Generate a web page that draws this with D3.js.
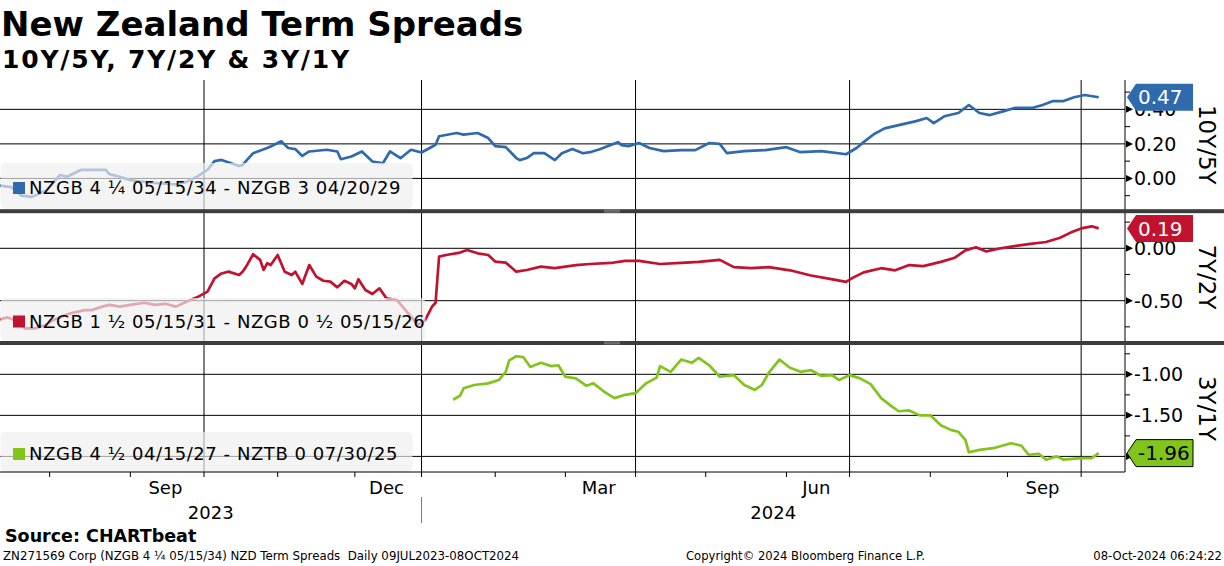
<!DOCTYPE html>
<html>
<head>
<meta charset="utf-8">
<script src="https://cdn.jsdelivr.net/npm/d3@7"></script>
<style>
  body { margin: 0; background: #fff; }
  svg { display: block; }
  text { font-family: "DejaVu Sans", sans-serif; white-space: pre; }
</style>
</head>
<body>
<svg id="chart" width="1224" height="566"></svg>
<script>
// NZ market holidays (no trading, axis skips them)
const holidays = ["2023-07-14", "2023-10-23", "2023-12-25", "2023-12-26", "2024-01-01", "2024-01-02",
  "2024-02-06", "2024-03-29", "2024-04-01", "2024-04-25", "2024-06-03", "2024-06-28"];

// 10Y/5Y spread (%)
const spread10s5s = [
  ["2023-07-10", -0.04], ["2023-07-17", -0.05], ["2023-07-20", -0.10], ["2023-07-25", -0.107], ["2023-07-31", -0.07],
  ["2023-08-04", 0.02], ["2023-08-08", 0.01], ["2023-08-14", 0.05], ["2023-08-23", 0.05], ["2023-08-24", 0.025],
  ["2023-08-29", 0.01], ["2023-09-01", -0.01], ["2023-09-11", -0.025], ["2023-09-20", -0.035], ["2023-09-25", -0.02],
  ["2023-09-28", 0.01], ["2023-10-03", 0.05], ["2023-10-05", 0.10], ["2023-10-09", 0.107], ["2023-10-16", 0.072],
  ["2023-10-17", 0.078], ["2023-10-20", 0.146], ["2023-10-27", 0.176], ["2023-10-30", 0.185], ["2023-11-02", 0.215],
  ["2023-11-06", 0.176], ["2023-11-08", 0.17], ["2023-11-10", 0.13], ["2023-11-14", 0.156], ["2023-11-21", 0.166],
  ["2023-11-24", 0.156], ["2023-11-27", 0.111], ["2023-11-30", 0.127], ["2023-12-05", 0.156], ["2023-12-08", 0.098],
  ["2023-12-13", 0.088], ["2023-12-15", 0.156], ["2023-12-20", 0.117], ["2023-12-27", 0.166], ["2024-01-03", 0.15],
  ["2024-01-09", 0.195], ["2024-01-10", 0.244], ["2024-01-17", 0.263], ["2024-01-19", 0.254], ["2024-01-25", 0.263],
  ["2024-01-30", 0.234], ["2024-02-01", 0.187], ["2024-02-07", 0.181], ["2024-02-12", 0.118], ["2024-02-13", 0.106],
  ["2024-02-15", 0.118], ["2024-02-19", 0.146], ["2024-02-22", 0.146], ["2024-02-27", 0.106], ["2024-02-29", 0.146],
  ["2024-03-05", 0.17], ["2024-03-08", 0.146], ["2024-03-12", 0.152], ["2024-03-15", 0.17], ["2024-03-19", 0.187],
  ["2024-03-22", 0.21], ["2024-03-25", 0.193], ["2024-03-27", 0.187], ["2024-04-03", 0.205], ["2024-04-08", 0.176],
  ["2024-04-12", 0.158], ["2024-04-19", 0.164], ["2024-04-26", 0.164], ["2024-05-02", 0.205], ["2024-05-07", 0.20],
  ["2024-05-09", 0.147], ["2024-05-16", 0.158], ["2024-05-24", 0.164], ["2024-06-04", 0.181], ["2024-06-10", 0.152],
  ["2024-06-18", 0.158], ["2024-06-27", 0.14], ["2024-07-03", 0.176], ["2024-07-05", 0.21], ["2024-07-10", 0.257],
  ["2024-07-15", 0.29], ["2024-07-19", 0.309], ["2024-07-26", 0.332], ["2024-07-31", 0.35], ["2024-08-02", 0.32],
  ["2024-08-07", 0.36], ["2024-08-13", 0.379], ["2024-08-16", 0.425], ["2024-08-21", 0.379], ["2024-08-26", 0.367],
  ["2024-08-30", 0.39], ["2024-09-04", 0.408], ["2024-09-11", 0.408], ["2024-09-16", 0.425], ["2024-09-19", 0.448],
  ["2024-09-24", 0.448], ["2024-09-27", 0.47], ["2024-10-02", 0.483], ["2024-10-08", 0.47]
];

// 7Y/2Y spread (%)
const spread7s2s = [
  ["2023-07-10", -0.685], ["2023-07-13", -0.66], ["2023-07-18", -0.685], ["2023-07-21", -0.764], ["2023-07-26", -0.764],
  ["2023-07-31", -0.73], ["2023-08-02", -0.685], ["2023-08-09", -0.62], ["2023-08-15", -0.59], ["2023-08-17", -0.59],
  ["2023-08-22", -0.557], ["2023-08-24", -0.54], ["2023-08-29", -0.557], ["2023-09-01", -0.54], ["2023-09-07", -0.52],
  ["2023-09-12", -0.54], ["2023-09-15", -0.53], ["2023-09-20", -0.557], ["2023-09-25", -0.51], ["2023-09-28", -0.468],
  ["2023-10-03", -0.414], ["2023-10-05", -0.287], ["2023-10-09", -0.24], ["2023-10-11", -0.223], ["2023-10-16", -0.255],
  ["2023-10-17", -0.223], ["2023-10-18", -0.175], ["2023-10-20", -0.057], ["2023-10-25", -0.11], ["2023-10-26", -0.207],
  ["2023-10-27", -0.143], ["2023-10-30", -0.16], ["2023-11-01", -0.064], ["2023-11-03", -0.223], ["2023-11-07", -0.255],
  ["2023-11-08", -0.223], ["2023-11-10", -0.34], ["2023-11-14", -0.16], ["2023-11-16", -0.27], ["2023-11-20", -0.31],
  ["2023-11-22", -0.318], ["2023-11-24", -0.373], ["2023-11-28", -0.31], ["2023-11-30", -0.34], ["2023-12-01", -0.382],
  ["2023-12-04", -0.296], ["2023-12-06", -0.398], ["2023-12-08", -0.436], ["2023-12-12", -0.382], ["2023-12-14", -0.478],
  ["2023-12-19", -0.494], ["2023-12-21", -0.573], ["2023-12-27", -0.653], ["2023-12-29", -0.732], ["2024-01-04", -0.685],
  ["2024-01-08", -0.557], ["2024-01-09", -0.52], ["2024-01-10", -0.08], ["2024-01-12", -0.064], ["2024-01-18", -0.041],
  ["2024-01-22", -0.016], ["2024-01-25", -0.048], ["2024-01-30", -0.064], ["2024-02-01", -0.127], ["2024-02-07", -0.137],
  ["2024-02-12", -0.223], ["2024-02-15", -0.207], ["2024-02-21", -0.175], ["2024-02-27", -0.19], ["2024-03-06", -0.16],
  ["2024-03-12", -0.15], ["2024-03-20", -0.14], ["2024-03-26", -0.12], ["2024-04-03", -0.12], ["2024-04-11", -0.15],
  ["2024-04-19", -0.14], ["2024-04-29", -0.13], ["2024-05-07", -0.11], ["2024-05-13", -0.18], ["2024-05-20", -0.19],
  ["2024-05-27", -0.18], ["2024-06-05", -0.21], ["2024-06-13", -0.26], ["2024-06-20", -0.29], ["2024-06-27", -0.32],
  ["2024-07-02", -0.28], ["2024-07-05", -0.23], ["2024-07-12", -0.19], ["2024-07-18", -0.21], ["2024-07-24", -0.16],
  ["2024-07-30", -0.17], ["2024-08-06", -0.13], ["2024-08-12", -0.09], ["2024-08-15", -0.02], ["2024-08-20", 0.01],
  ["2024-08-23", -0.03], ["2024-08-29", 0.0], ["2024-09-04", 0.02], ["2024-09-10", 0.04], ["2024-09-17", 0.06],
  ["2024-09-23", 0.10], ["2024-09-26", 0.15], ["2024-10-01", 0.19], ["2024-10-04", 0.21], ["2024-10-08", 0.19]
];

// 3Y/1Y spread (%)
const spread3s1s = [
  ["2024-01-16", -1.31], ["2024-01-18", -1.26], ["2024-01-19", -1.17], ["2024-01-24", -1.13], ["2024-01-30", -1.11],
  ["2024-02-02", -1.07], ["2024-02-07", -0.97], ["2024-02-08", -0.83], ["2024-02-12", -0.78], ["2024-02-14", -0.79],
  ["2024-02-16", -0.91], ["2024-02-21", -0.86], ["2024-02-26", -0.90], ["2024-02-28", -0.89], ["2024-03-01", -1.03],
  ["2024-03-06", -1.05], ["2024-03-11", -1.14], ["2024-03-13", -1.11], ["2024-03-18", -1.21], ["2024-03-21", -1.29],
  ["2024-03-26", -1.25], ["2024-04-02", -1.23], ["2024-04-05", -1.11], ["2024-04-10", -1.04], ["2024-04-11", -0.90],
  ["2024-04-16", -0.97], ["2024-04-19", -0.82], ["2024-04-24", -0.86], ["2024-04-29", -0.80], ["2024-05-02", -0.89],
  ["2024-05-07", -1.03], ["2024-05-13", -1.01], ["2024-05-16", -1.13], ["2024-05-21", -1.19], ["2024-05-23", -1.13],
  ["2024-05-27", -0.98], ["2024-05-30", -0.82], ["2024-06-05", -0.92], ["2024-06-10", -0.97], ["2024-06-13", -0.95],
  ["2024-06-18", -1.02], ["2024-06-21", -1.01], ["2024-06-25", -1.07], ["2024-07-01", -1.01], ["2024-07-04", -1.05],
  ["2024-07-09", -1.12], ["2024-07-12", -1.29], ["2024-07-17", -1.39], ["2024-07-19", -1.45], ["2024-07-24", -1.44],
  ["2024-07-29", -1.50], ["2024-08-01", -1.50], ["2024-08-06", -1.62], ["2024-08-09", -1.68], ["2024-08-13", -1.70],
  ["2024-08-15", -1.80], ["2024-08-16", -1.95], ["2024-08-21", -1.92], ["2024-08-27", -1.90], ["2024-09-03", -1.84],
  ["2024-09-06", -1.87], ["2024-09-10", -1.98], ["2024-09-13", -1.97], ["2024-09-17", -2.04], ["2024-09-20", -2.00],
  ["2024-09-24", -2.04], ["2024-10-01", -2.02], ["2024-10-04", -2.02], ["2024-10-08", -1.96]
];

const panelTitles = ["10Y/5Y", "7Y/2Y", "3Y/1Y"];
const legendLabels = [
  "NZGB 4 \u00BC 05/15/34 - NZGB 3 04/20/29",
  "NZGB 1 \u00BD 05/15/31 - NZGB 0 \u00BD 05/15/26",
  "NZGB 4 \u00BD 04/15/27 - NZTB 0 07/30/25"
];
const lastLabels = ["0.47", "0.19", "-1.96"];
const majorTicks = [[0, 0.2, 0.4], [-0.5, 0], [-2, -1.5, -1]];
const minorTicks = [[-0.1, 0.1, 0.3, 0.5], [-0.75, -0.25, 0.25], [-1.75, -1.25, -0.75]];
const labelledMonths = ["2023-09", "2023-12", "2024-03", "2024-06", "2024-09"];
const yearLabels = ["2023", "2024"];

const svg = d3.select("#chart");
const parse = d3.timeParse("%Y-%m-%d");
const fmtDay = d3.timeFormat("%Y-%m-%d");
const fmtMonth = d3.timeFormat("%Y-%m");
const holidaySet = new Set(holidays);

// trading-day axis (weekends & holidays skipped, like the terminal chart)
const tradingDays = d3.timeDay.range(new Date(2023, 6, 10), new Date(2024, 9, 9))
  .filter(d => d.getDay() !== 0 && d.getDay() !== 6 && !holidaySet.has(fmtDay(d)));
const dayIndex = d => d3.bisectLeft(tradingDays, d);

const plotRight = 1125;
const plotBottom = 472;
const x = d3.scaleLinear().domain([0.855, 321.5]).range([0, plotRight]);

const panels = [
  {data: spread10s5s, color: "#2f6aad", domain: [-0.18, 0.57], top: 80, bottom: 209.5,
   legendY: 163, legendH: 46, legendW: 412, textCol: "#fff", stroke: "none"},
  {data: spread7s2s, color: "#c1132f", domain: [-0.885, 0.337], top: 213, bottom: 341,
   legendY: 298, legendH: 43, legendW: 425, textCol: "#fff", stroke: "none"},
  {data: spread3s1s, color: "#80c41c", domain: [-2.19, -0.643], top: 345, bottom: plotBottom,
   legendY: 432, legendH: 40, legendW: 412, textCol: "#000", stroke: "#000"}
];

svg.append("defs").append("clipPath").attr("id", "plotClip")
  .append("rect").attr("x", 0).attr("y", 0).attr("width", plotRight).attr("height", 566);

// month boundaries on the trading-day axis
const months = d3.groups(tradingDays.map((d, i) => ({d, i})), e => fmtMonth(e.d))
  .map(([key, arr]) => ({key, first: arr[0].i, last: arr[arr.length - 1].i}));
const quarterStarts = months.filter(m => [1, 4, 7, 10].includes(+m.key.slice(5)) && m.first > 0);

const gridG = svg.append("g");

// vertical quarter gridlines through all panels
gridG.selectAll("line.vgrid")
  .data(quarterStarts)
  .enter()
  .append("line")
  .attr("x1", d => x(d.first)).attr("x2", d => x(d.first))
  .attr("y1", panels[0].top).attr("y2", plotBottom)
  .attr("stroke", "#000").attr("stroke-width", 1);

panels.forEach((p, k) => {
  const y = d3.scaleLinear().domain(p.domain).range([p.bottom, p.top]);
  const g = svg.append("g");

  g.selectAll("line.hgrid")
    .data(majorTicks[k])
    .enter()
    .append("line")
    .attr("x1", 0).attr("x2", plotRight)
    .attr("y1", d => y(d)).attr("y2", d => y(d))
    .attr("stroke", "#000").attr("stroke-width", 1);

  const line = d3.line()
    .x(d => x(dayIndex(parse(d[0]))))
    .y(d => y(d[1]));

  g.append("path")
    .datum(p.data)
    .attr("d", line)
    .attr("clip-path", "url(#plotClip)")
    .attr("fill", "none")
    .attr("stroke", p.color)
    .attr("stroke-width", 2.7)
    .attr("stroke-linejoin", "round");

  // legend box (translucent, washes out the line beneath)
  g.append("rect")
    .attr("x", 0.5).attr("y", p.legendY)
    .attr("width", p.legendW).attr("height", p.legendH)
    .attr("rx", 5)
    .attr("fill", "#efefef").attr("fill-opacity", 0.68);
  const ly = p.legendY + p.legendH / 2 + 2;
  g.append("rect")
    .attr("x", 13).attr("y", ly - 6)
    .attr("width", 12).attr("height", 12)
    .attr("fill", p.color);
  g.append("text")
    .attr("x", 29).attr("y", ly)
    .attr("dy", "0.36em")
    .style("font-size", "18px")
    .style("letter-spacing", "0.55px")
    .attr("fill", "#000")
    .text(legendLabels[k]);

  // last value tag position (clamped inside the panel)
  const last = p.data[p.data.length - 1][1];
  const cy = Math.max(p.top + 13.5, Math.min(p.bottom - 13.5, y(last)));

  // right axis: minor ticks, pointer ticks, labels
  g.selectAll("line.minor")
    .data(minorTicks[k])
    .enter()
    .append("line")
    .attr("x1", plotRight).attr("x2", plotRight + 5)
    .attr("y1", d => y(d)).attr("y2", d => y(d))
    .attr("stroke", "#000");
  g.selectAll("path.major")
    .data(majorTicks[k])
    .enter()
    .append("path")
    .attr("d", d => `M${plotRight + 1},${y(d) - 3.5}L${plotRight + 8},${y(d)}L${plotRight + 1},${y(d) + 3.5}Z`)
    .attr("fill", "#000");
  // a label hidden completely behind the value tag is left out
  g.selectAll("text.tick")
    .data(majorTicks[k].filter(d => Math.abs(y(d) - cy) > 8))
    .enter()
    .append("text")
    .attr("x", plotRight + 9).attr("y", d => y(d))
    .attr("dy", "0.36em")
    .style("font-size", "19px")
    .text(d => d.toFixed(2));

  // rotated panel title
  g.append("text")
    .attr("transform", `translate(1207,${(p.top + p.bottom) / 2}) rotate(90)`)
    .attr("text-anchor", "middle")
    .attr("dy", "0.36em")
    .style("font-size", "23px")
    .text(panelTitles[k]);

  // last value tag
  const tx = plotRight + 2;
  g.append("path")
    .attr("d", `M${tx},${cy}L${tx + 9},${cy - 13.5}L${1193},${cy - 13.5}L${1193},${cy + 13.5}L${tx + 9},${cy + 13.5}Z`)
    .attr("fill", p.color)
    .attr("stroke", p.stroke).attr("stroke-width", 1);
  g.append("text")
    .attr("x", tx + 11).attr("y", cy)
    .attr("dy", "0.36em")
    .style("font-size", "20px")
    .attr("fill", p.textCol)
    .text(lastLabels[k]);
});

// frame: right spine and bottom axis
svg.append("line")
  .attr("x1", plotRight).attr("x2", plotRight)
  .attr("y1", panels[0].top).attr("y2", plotBottom)
  .attr("stroke", "#000");
svg.append("line")
  .attr("x1", 0).attr("x2", plotRight)
  .attr("y1", plotBottom).attr("y2", plotBottom)
  .attr("stroke", "#000");

// panel separators
[211.2, 343].forEach(sy => {
  svg.append("rect").attr("x", 0).attr("y", sy - 2).attr("width", 1224).attr("height", 4).attr("fill", "#3c3c3c");
  [-1, 0.8].forEach(o => svg.append("line")
    .attr("x1", 604).attr("x2", 620).attr("y1", sy + o).attr("y2", sy + o)
    .attr("stroke", "#9a9a9a").attr("stroke-width", 0.8));
});

// bottom axis ticks and labels
svg.selectAll("line.mtick")
  .data(months.slice(1))
  .enter()
  .append("line")
  .attr("x1", d => x(d.first)).attr("x2", d => x(d.first))
  .attr("y1", plotBottom).attr("y2", plotBottom + 5)
  .attr("stroke", "#000");

svg.selectAll("text.month")
  .data(months.filter(m => labelledMonths.includes(m.key)))
  .enter()
  .append("text")
  .attr("x", d => x((d.first + d.last) / 2))
  .attr("y", 494)
  .attr("text-anchor", "middle")
  .style("font-size", "18px")
  .text(d => d3.timeFormat("%b")(parse(d.key + "-01")));

const yearStart = x(dayIndex(new Date(2024, 0, 1)));
svg.append("line")
  .attr("x1", yearStart).attr("x2", yearStart)
  .attr("y1", 497).attr("y2", 523)
  .attr("stroke", "#777");
svg.selectAll("text.year")
  .data(yearLabels)
  .enter()
  .append("text")
  .attr("x", (d, i) => i === 0 ? yearStart / 2 : (yearStart + plotRight) / 2)
  .attr("y", 519)
  .attr("text-anchor", "middle")
  .style("font-size", "18px")
  .text(d => d);

// titles and footer
svg.append("text").attr("x", 1).attr("y", 36)
  .style("font-size", "34px").style("font-weight", "bold")
  .text("New Zealand Term Spreads");
svg.append("text").attr("x", 2).attr("y", 68)
  .style("font-size", "25px").style("font-weight", "bold")
  .style("letter-spacing", "1.8px")
  .text("10Y/5Y, 7Y/2Y & 3Y/1Y");
svg.append("text").attr("x", 5).attr("y", 542)
  .style("font-size", "17.5px").style("font-weight", "bold")
  .text("Source: CHARTbeat");
svg.append("text").attr("x", 3).attr("y", 560)
  .style("font-size", "11.8px")
  .text("ZN271569 Corp (NZGB 4 \u00BC 05/15/34) NZD Term Spreads  Daily 09JUL2023-08OCT2024");
svg.append("text").attr("x", 686).attr("y", 560)
  .style("font-size", "11.6px")
  .text("Copyright\u00A9 2024 Bloomberg Finance L.P.");
svg.append("text").attr("x", 1222).attr("y", 560)
  .attr("text-anchor", "end")
  .style("font-size", "11.6px")
  .text("08-Oct-2024 06:24:22");
</script>
</body>
</html>
